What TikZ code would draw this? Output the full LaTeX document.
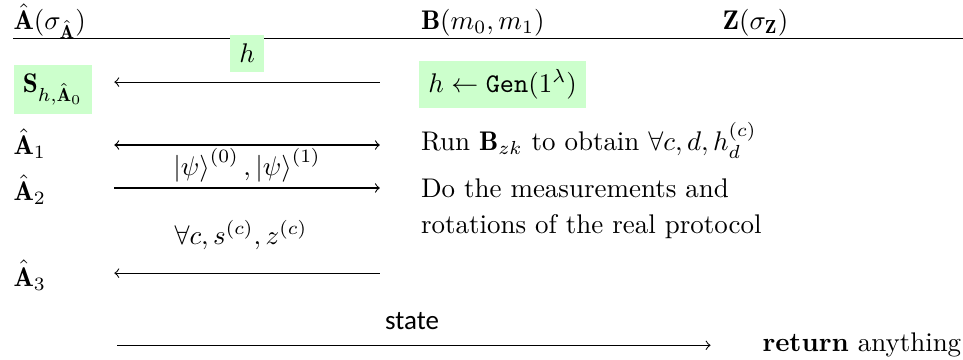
\documentclass[tikz,border=0pt]{standalone}
\usepackage{amsmath,amssymb}
\usepackage{fontspec}
\newfontfamily\statefont{Carlito}
\usepackage{tikz}
\newcommand{\vc}[1]{\mathbf{#1}}
\newcommand{\Ah}{\hat{\vc{A}}}
\tikzset{
  msg/.style   = {thin},
  hl/.style    = {fill=green!20},
  party/.style = {anchor=base west, inner sep=0pt}
}

\begin{document}
\begin{tikzpicture}
  \useasboundingbox (0,0) rectangle (12.55,-4.69);
  % header row and rule
  \node[party] (A) at (0.17,-0.39) {$\Ah(\sigma_{\Ah})$};
  \node[party] (B) at (5.48,-0.39) {$\vc{B}(m_0,m_1)$};
  \node[party] (Z) at (9.41,-0.39) {$\vc{Z}(\sigma_{\vc{Z}})$};
  \coordinate (ruleL) at (0.17,-0.50);
  \coordinate (ruleR) at (12.55,-0.50);
  \draw (ruleL) -- (ruleR);
  % key generation
  \node[hl] (S0) at (0.69,-1.17) {$\vc{S}_{h,\Ah_0}$};
  \node[hl] (gen) at (6.55,-1.10) {$h \leftarrow \mathtt{Gen}(1^{\lambda})$};
  \coordinate (l1) at (1.49,-1.07);
  \coordinate (r1) at (4.95,-1.07);
  \draw[msg,->] (r1) -- (l1)
        node[midway,above=1.3mm,hl] (h) {$h$};
  % states exchanged
  \node[party] (A1) at (0.17,-2.01) {$\Ah_1$};
  \coordinate (l2) at (1.49,-1.89);
  \coordinate (r2) at (4.95,-1.89);
  \draw[msg,<->] (l2) -- (r2)
        node[midway,below,inner sep=1pt] (psi)
        {$\left|\psi\right\rangle^{(0)}, \left|\psi\right\rangle^{(1)}$};
  \node[party] (run) at (5.48,-1.96) {Run $\vc{B}_{zk}$ to obtain $\forall c, d, h_d^{(c)}$};
  \node[party] (A2) at (0.17,-2.61) {$\Ah_2$};
  \coordinate (l3) at (1.49,-2.45);
  \coordinate (r3) at (4.95,-2.45);
  \draw[msg,->] (l3) -- (r3);
  \node[party] (meas) at (5.48,-2.58) {Do the measurements and};
  \node[party] (rot) at (5.48,-3.04) {rotations of the real protocol};
  % answers back to A
  \node (sz) at (3.14,-3.06) {$\forall c, s^{(c)}, z^{(c)}$};
  \node[party] (A3) at (0.17,-3.73) {$\Ah_3$};
  \coordinate (l4) at (1.49,-3.56);
  \coordinate (r4) at (4.95,-3.56);
  \draw[msg,->] (r4) -- (l4);
  % final state to Z
  \coordinate (l5) at (1.53,-4.50);
  \coordinate (r5) at (9.26,-4.50);
  \draw[msg,->] (l5) -- (r5);
  \node (st) at (5.37,-4.19) {\statefont state};
  \node[party] (ret) at (9.93,-4.58) {\textbf{return} anything};
\end{tikzpicture}
\end{document}
